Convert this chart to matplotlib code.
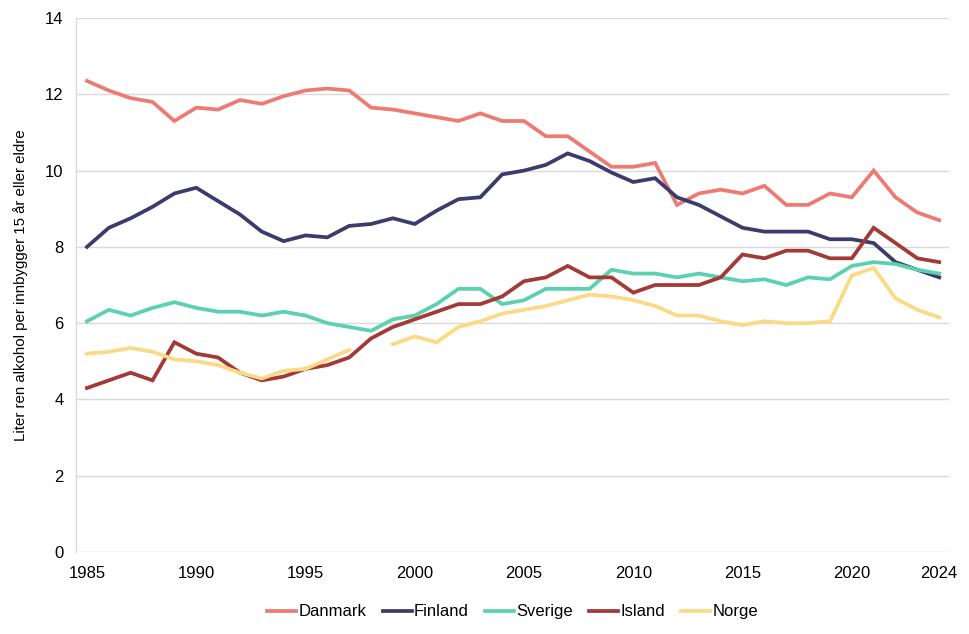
import numpy as np
import matplotlib.pyplot as plt

years = list(range(1985, 2025))

danmark = [12.35, 12.1, 11.9, 11.8, 11.3, 11.65, 11.6, 11.85, 11.75, 11.95,
           12.1, 12.15, 12.1, 11.65, 11.6, 11.5, 11.4, 11.3, 11.5, 11.3,
           11.3, 10.9, 10.9, 10.5, 10.1, 10.1, 10.2, 9.1, 9.4, 9.5,
           9.4, 9.6, 9.1, 9.1, 9.4, 9.3, 10.0, 9.3, 8.9, 8.7]
finland = [8.0, 8.5, 8.75, 9.05, 9.4, 9.55, 9.2, 8.85, 8.4, 8.15,
           8.3, 8.25, 8.55, 8.6, 8.75, 8.6, 8.95, 9.25, 9.3, 9.9,
           10.0, 10.15, 10.45, 10.25, 9.95, 9.7, 9.8, 9.3, 9.1, 8.8,
           8.5, 8.4, 8.4, 8.4, 8.2, 8.2, 8.1, 7.6, 7.4, 7.2]
sverige = [6.05, 6.35, 6.2, 6.4, 6.55, 6.4, 6.3, 6.3, 6.2, 6.3,
           6.2, 6.0, 5.9, 5.8, 6.1, 6.2, 6.5, 6.9, 6.9, 6.5,
           6.6, 6.9, 6.9, 6.9, 7.4, 7.3, 7.3, 7.2, 7.3, 7.2,
           7.1, 7.15, 7.0, 7.2, 7.15, 7.5, 7.6, 7.55, 7.4, 7.3]
island = [4.3, 4.5, 4.7, 4.5, 5.5, 5.2, 5.1, 4.7, 4.5, 4.6,
          4.8, 4.9, 5.1, 5.6, 5.9, 6.1, 6.3, 6.5, 6.5, 6.7,
          7.1, 7.2, 7.5, 7.2, 7.2, 6.8, 7.0, 7.0, 7.0, 7.2,
          7.8, 7.7, 7.9, 7.9, 7.7, 7.7, 8.5, 8.1, 7.7, 7.6]
norge = [5.2, 5.25, 5.35, 5.25, 5.05, 5.0, 4.9, 4.7, 4.55, 4.75,
         4.8, 5.05, 5.3, np.nan, 5.45, 5.65, 5.5, 5.9, 6.05, 6.25,
         6.35, 6.45, 6.6, 6.75, 6.7, 6.6, 6.45, 6.2, 6.2, 6.05,
         5.95, 6.05, 6.0, 6.0, 6.05, 7.25, 7.45, 6.65, 6.35, 6.15]

series = [("Danmark", danmark, "#EE7B73"),
          ("Finland", finland, "#3A3D6B"),
          ("Sverige", sverige, "#5CD1B0"),
          ("Island", island, "#A33A36"),
          ("Norge", norge, "#FADA85")]

xticks = [1985, 1990, 1995, 2000, 2005, 2010, 2015, 2020, 2024]

plt.rcParams['font.family'] = ['Liberation Sans', 'DejaVu Sans']

fig = plt.figure(figsize=(9.7, 6.34), dpi=100)
ax = fig.add_axes([0.0784, 0.1293, 0.9, 0.8423])

for name, vals, col in series:
    ax.plot(years, vals, color=col, linewidth=2.7, label=name,
            solid_joinstyle='miter')

ax.set_xlim(1984.5, 2024.45)
ax.set_ylim(0, 14)
ax.set_yticks(range(0, 15, 2))
ax.set_xticks(xticks)
ax.tick_params(axis='both', length=0, labelsize=12, colors='#000000')
ax.tick_params(axis='x', pad=10)
ax.tick_params(axis='y', pad=9)
ax.grid(axis='y', color='#D9D9D9', linewidth=1)
ax.set_axisbelow(True)
for s in ax.spines.values():
    s.set_visible(False)
ax.spines['left'].set_visible(True)
ax.spines['left'].set_color('#D9D9D9')
ax.spines['left'].set_linewidth(1)

ax.set_ylabel("Liter ren alkohol per innbygger 15 år eller eldre", fontsize=10.8, labelpad=12)

ax.legend(loc='upper center', bbox_to_anchor=(0.5, -0.07), ncol=5, frameon=False,
          fontsize=12, handlelength=1.75, handletextpad=0.1, columnspacing=1.0)

fig.savefig("out.png", dpi=100)
